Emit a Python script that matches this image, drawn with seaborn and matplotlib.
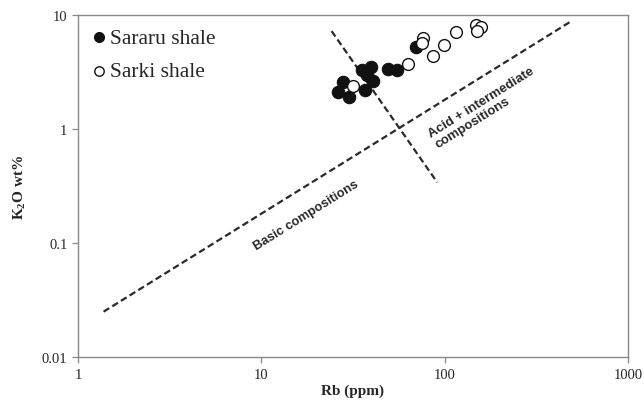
import matplotlib
matplotlib.use("Agg")
import matplotlib.pyplot as plt
import seaborn as sns
import pandas as pd
from matplotlib.ticker import FixedLocator, FixedFormatter, NullLocator

# Sararu shale (filled circles)
sararu_rb = [28.0, 26.3, 30.2, 35.3, 39.5, 37.6, 40.8, 36.8, 49.3, 55.2, 69.6]
sararu_k2o = [2.57, 2.12, 1.92, 3.31, 3.48, 2.94, 2.62, 2.20, 3.36, 3.31, 5.21]

# Sarki shale (open circles)
sarki_rb = [31.8, 63.4, 76.6, 75.0, 86.1, 99.3, 116, 148, 159, 150]
sarki_k2o = [2.37, 3.72, 6.28, 5.65, 4.35, 5.46, 7.05, 8.22, 7.80, 7.20]

# dividing lines
basic_line_rb = [1.38, 480]
basic_line_k2o = [0.025, 8.6]
cross_line_rb = [24.2, 91.2]
cross_line_k2o = [7.2, 0.34]

x_ticks = [1, 10, 100, 1000]
x_labels = ["1", "10", "100", "1000"]
y_ticks = [0.01, 0.1, 1, 10]
y_labels = ["0.01", "0.1", "1", "10"]

sns.set_style("ticks")
plt.rcParams["font.family"] = ["Liberation Serif", "DejaVu Serif"]
plt.rcParams["mathtext.fontset"] = "custom"
plt.rcParams["mathtext.rm"] = "Liberation Serif"
plt.rcParams["mathtext.bf"] = "Liberation Serif:bold"

fig = plt.figure(figsize=(6.44, 4.06), dpi=100)
ax = fig.add_axes([0.121, 0.118, 0.854, 0.843])

ax.set_xscale("log")
ax.set_yscale("log")
ax.set_xlim(1, 1000)
ax.set_ylim(0.01, 10)

lines = pd.DataFrame({"rb": basic_line_rb, "k2o": basic_line_k2o})
ax.plot(lines["rb"], lines["k2o"], ls=(0, (3, 1.6)), color="#2a2a2a", lw=1.6)
ax.plot(cross_line_rb, cross_line_k2o, ls=(0, (3, 1.6)), color="#2a2a2a", lw=1.6)

df_a = pd.DataFrame({"rb": sararu_rb, "k2o": sararu_k2o})
df_b = pd.DataFrame({"rb": sarki_rb, "k2o": sarki_k2o})
sns.scatterplot(data=df_a, x="rb", y="k2o", ax=ax, color="#111111", edgecolor="#111111",
                s=80, linewidth=0.8, label="Sararu shale", zorder=3)
sns.scatterplot(data=df_b, x="rb", y="k2o", ax=ax, color="white", edgecolor="#111111",
                s=72, linewidth=1.0, label="Sarki shale", zorder=4)

ax.xaxis.set_major_locator(FixedLocator(x_ticks))
ax.xaxis.set_major_formatter(FixedFormatter(x_labels))
ax.yaxis.set_major_locator(FixedLocator(y_ticks))
ax.yaxis.set_major_formatter(FixedFormatter(y_labels))
ax.xaxis.set_minor_locator(NullLocator())
ax.yaxis.set_minor_locator(NullLocator())
ax.tick_params(axis="both", labelsize=10.5, length=4, width=0.9, color="#888888", direction="out")

for sp in ax.spines.values():
    sp.set_color("#888888")
    sp.set_linewidth(1.0)

ax.set_xlabel("Rb (ppm)", fontsize=11, fontweight="bold", labelpad=2)
ax.set_ylabel(r"$\mathbf{K_2O}$ wt%", fontsize=11, fontweight="bold", labelpad=10)

ax.text(0.415, 0.415, "Basic compositions", transform=ax.transAxes, rotation=32,
        fontsize=9.3, fontweight="bold", family=["Liberation Sans"], ha="center", va="center")
ax.text(0.74, 0.73, "Acid + intermediate\ncompositions", transform=ax.transAxes, rotation=32,
        fontsize=9.5, fontweight="bold", family=["Liberation Sans"], ha="center", va="center",
        multialignment="left", linespacing=1.05, rotation_mode="anchor")

leg = ax.legend(loc="upper left", frameon=False, fontsize=15.5, handletextpad=0.1,
                handlelength=0.8, borderaxespad=0.3, borderpad=0.3, labelspacing=0.62,
                markerscale=0.8)

fig.savefig("out.png", dpi=100)
